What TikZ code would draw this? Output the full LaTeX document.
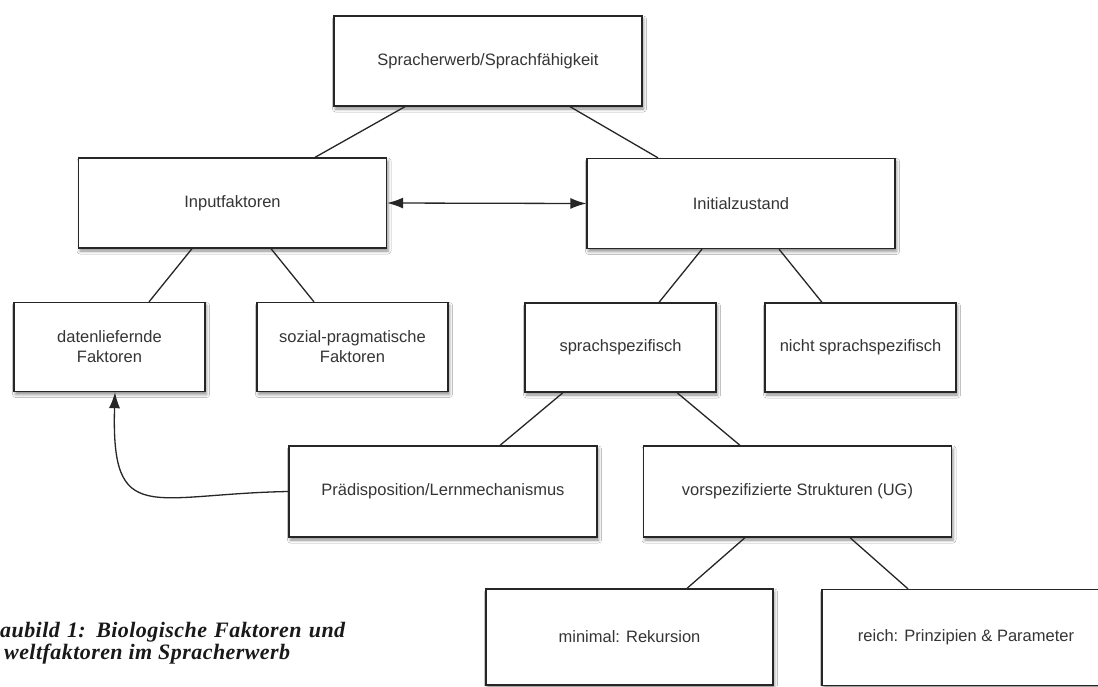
\documentclass[tikz,border=0pt]{standalone}
\usepackage{fontspec}
\setmainfont{Liberation Sans}
\newfontfamily\capfont[LetterSpace=2]{Liberation Serif}
\usetikzlibrary{arrows.meta,shadows.blur}
\definecolor{txt}{HTML}{353535}
\definecolor{ln}{HTML}{262626}
\tikzset{
  box/.style={draw=ln, line width=1.3pt, fill=white, text=txt, align=center,
    font=\fontsize{16.5}{20}\selectfont, inner sep=0pt,
    blur shadow={shadow xshift=1.5pt, shadow yshift=-3pt, shadow blur radius=3pt, shadow opacity=45}},
  bigbox/.style={box, minimum width=308pt, minimum height=90pt},
  smallbox/.style={box, minimum width=191pt, minimum height=89pt},
  lowbox/.style={box, minimum width=287pt, minimum height=96pt},
  conn/.style={draw=ln, line width=1.3pt},
  tip/.style={-{Latex[length=16pt,width=11pt]}},
  both/.style={{Latex[length=16pt,width=11pt]}-{Latex[length=16pt,width=11pt]}},
  captext/.style={anchor=base west, inner sep=0pt, text=black!90,
    font=\capfont\bfseries\itshape\fontsize{22}{22}\selectfont},
}
\begin{document}
\begin{tikzpicture}[x=1pt,y=-1pt]
\useasboundingbox (0,0) rectangle (1098,686);
\clip (0,0) rectangle (1098,686);
\fill[white] (0,0) rectangle (1098,686);
% row 0
\node[bigbox] (top) at (488,61) {Spracherwerb/Sprachfähigkeit};
% row 1
\node[bigbox] (inp) at (232.5,203) {Inputfaktoren};
\node[bigbox] (ini) at (741,203.5) {Initialzustand};
% row 2
\node[smallbox] (dat) at (109.5,347) {datenliefernde\\Faktoren};
\node[smallbox] (soz) at (352.5,347) {sozial-pragmatische\\Faktoren};
\node[smallbox] (spr) at (620.5,347.5) {sprachspezifisch};
\node[smallbox] (nsp) at (860.5,347.5) {nicht sprachspezifisch};
% row 3
\node[bigbox, minimum height=91pt] (pre) at (443,491.5) {Prädisposition/Lernmechanismus};
\node[bigbox, minimum height=91pt] (vor) at (797.5,491.5) {vorspezifizierte Strukturen (UG)};
% row 4
\node[lowbox] (min) at (629.5,637) {minimal: Rekursion};
\node[lowbox, minimum width=288pt] (rei) at (966,637.5) {reich: Prinzipien \& Parameter};
% connectors
\draw[conn] ([xshift=-83pt]top.south) -- ([xshift=82.5pt]inp.north);
\draw[conn] ([xshift=82pt]top.south) -- ([xshift=-83pt]ini.north);
\draw[conn] ([xshift=-40.5pt]inp.south) -- ([xshift=39.5pt]dat.north);
\draw[conn] ([xshift=38.5pt]inp.south) -- ([xshift=-38.5pt]soz.north);
\draw[conn] ([xshift=-39pt]ini.south) -- ([xshift=38.5pt]spr.north);
\draw[conn] ([xshift=38pt]ini.south) -- ([xshift=-38.5pt]nsp.north);
\draw[conn] ([xshift=-57.5pt]spr.south) -- ([xshift=57pt]pre.north);
\draw[conn] ([xshift=56.5pt]spr.south) -- ([xshift=-57.5pt]vor.north);
\draw[conn] ([xshift=-52.5pt]vor.south) -- ([xshift=57.5pt]min.north);
\draw[conn] ([xshift=52.5pt]vor.south) -- ([xshift=-58pt]rei.north);
\draw[conn, both] (inp.east) -- (ini.west);
\draw[conn, tip] (pre.west) .. controls (150,494) and (111,528) .. ([xshift=5.5pt]dat.south);
% caption
\node[captext] (cap1) at (0,637) {\makebox[345pt][s]{aubild 1: Biologische Faktoren und}};
\node[captext] (cap2) at (4,659) {weltfaktoren im Spracherwerb};
\end{tikzpicture}
\end{document}
